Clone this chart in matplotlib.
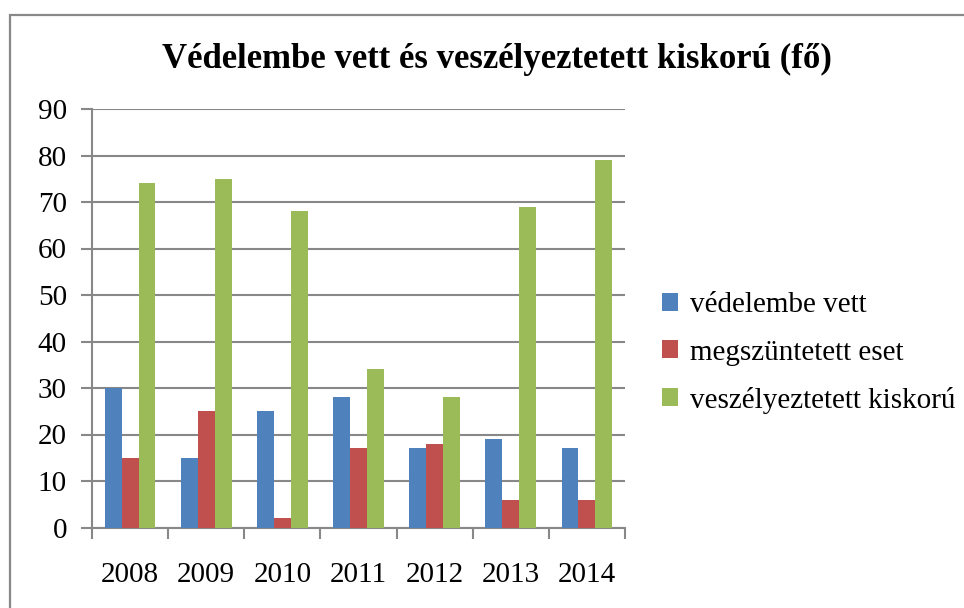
import numpy as np
import matplotlib.pyplot as plt
from matplotlib.patches import Rectangle

# Adatok
years = ['2008', '2009', '2010', '2011', '2012', '2013', '2014']
vedelembe = [30, 15, 25, 28, 17, 19, 17]
megszuntetett = [15, 25, 2, 17, 18, 6, 6]
veszelyeztetett = [74, 75, 68, 34, 28, 69, 79]
labels = ['védelembe vett', 'megszüntetett eset', 'veszélyeztetett kiskorú']
colors = ['#4F81BD', '#C0504D', '#9BBB59']

plt.rcParams['font.family'] = ['Liberation Serif', 'DejaVu Serif']
grid_col = '#888888'

fig = plt.figure(figsize=(9.64, 6.08), dpi=100)

# Keret a diagram körül
fig.patches.append(Rectangle((10 / 964, -0.05), 1.1, 1 - 15 / 608 + 0.05,
                             transform=fig.transFigure, fill=False,
                             edgecolor=grid_col, linewidth=1.6))

ax = fig.add_axes([92 / 964, (608 - 527.5) / 608, 533 / 964, 418.5 / 608])

x = np.arange(len(years))
w = 1 / 4.5
series = [vedelembe, megszuntetett, veszelyeztetett]
for i, s in enumerate(series):
    ax.bar(x + (i - 1) * w, s, w, color=colors[i], label=labels[i], zorder=3)

ax.set_xlim(-0.5, len(years) - 0.5)
ax.set_ylim(0, 90)
ax.set_yticks(range(0, 91, 10))
ax.yaxis.grid(True, color=grid_col, linewidth=1.5, zorder=0)

# Kategória határokon kis jelölések
ax.set_xticks(np.arange(-0.5, len(years), 1))
ax.set_xticklabels([])
ax.set_xticks(x, minor=True)
ax.set_xticklabels(years, minor=True, fontsize=21)
ax.tick_params(axis='x', which='major', length=8, width=1.5, color=grid_col)
ax.tick_params(axis='x', which='minor', length=0, pad=25)
ax.tick_params(axis='y', length=8, width=1.5, color=grid_col, labelsize=21, pad=10)

for side in ['top', 'right']:
    ax.spines[side].set_visible(False)
for side in ['left', 'bottom']:
    ax.spines[side].set_color(grid_col)
    ax.spines[side].set_linewidth(1.5)

fig.text(497 / 964, 1 - 59 / 608, 'Védelembe vett és veszélyeztetett kiskorú (fő)',
         ha='center', va='center', fontsize=25, fontweight='bold')

ax.legend(loc='center left', bbox_to_anchor=(662 / 964, 1 - 353 / 608),
          bbox_transform=fig.transFigure, frameon=False, fontsize=21,
          handlelength=0.55, handleheight=0.55, handletextpad=0.4,
          labelspacing=0.72, borderpad=0, borderaxespad=0)

plt.savefig('out.png', dpi=100)
